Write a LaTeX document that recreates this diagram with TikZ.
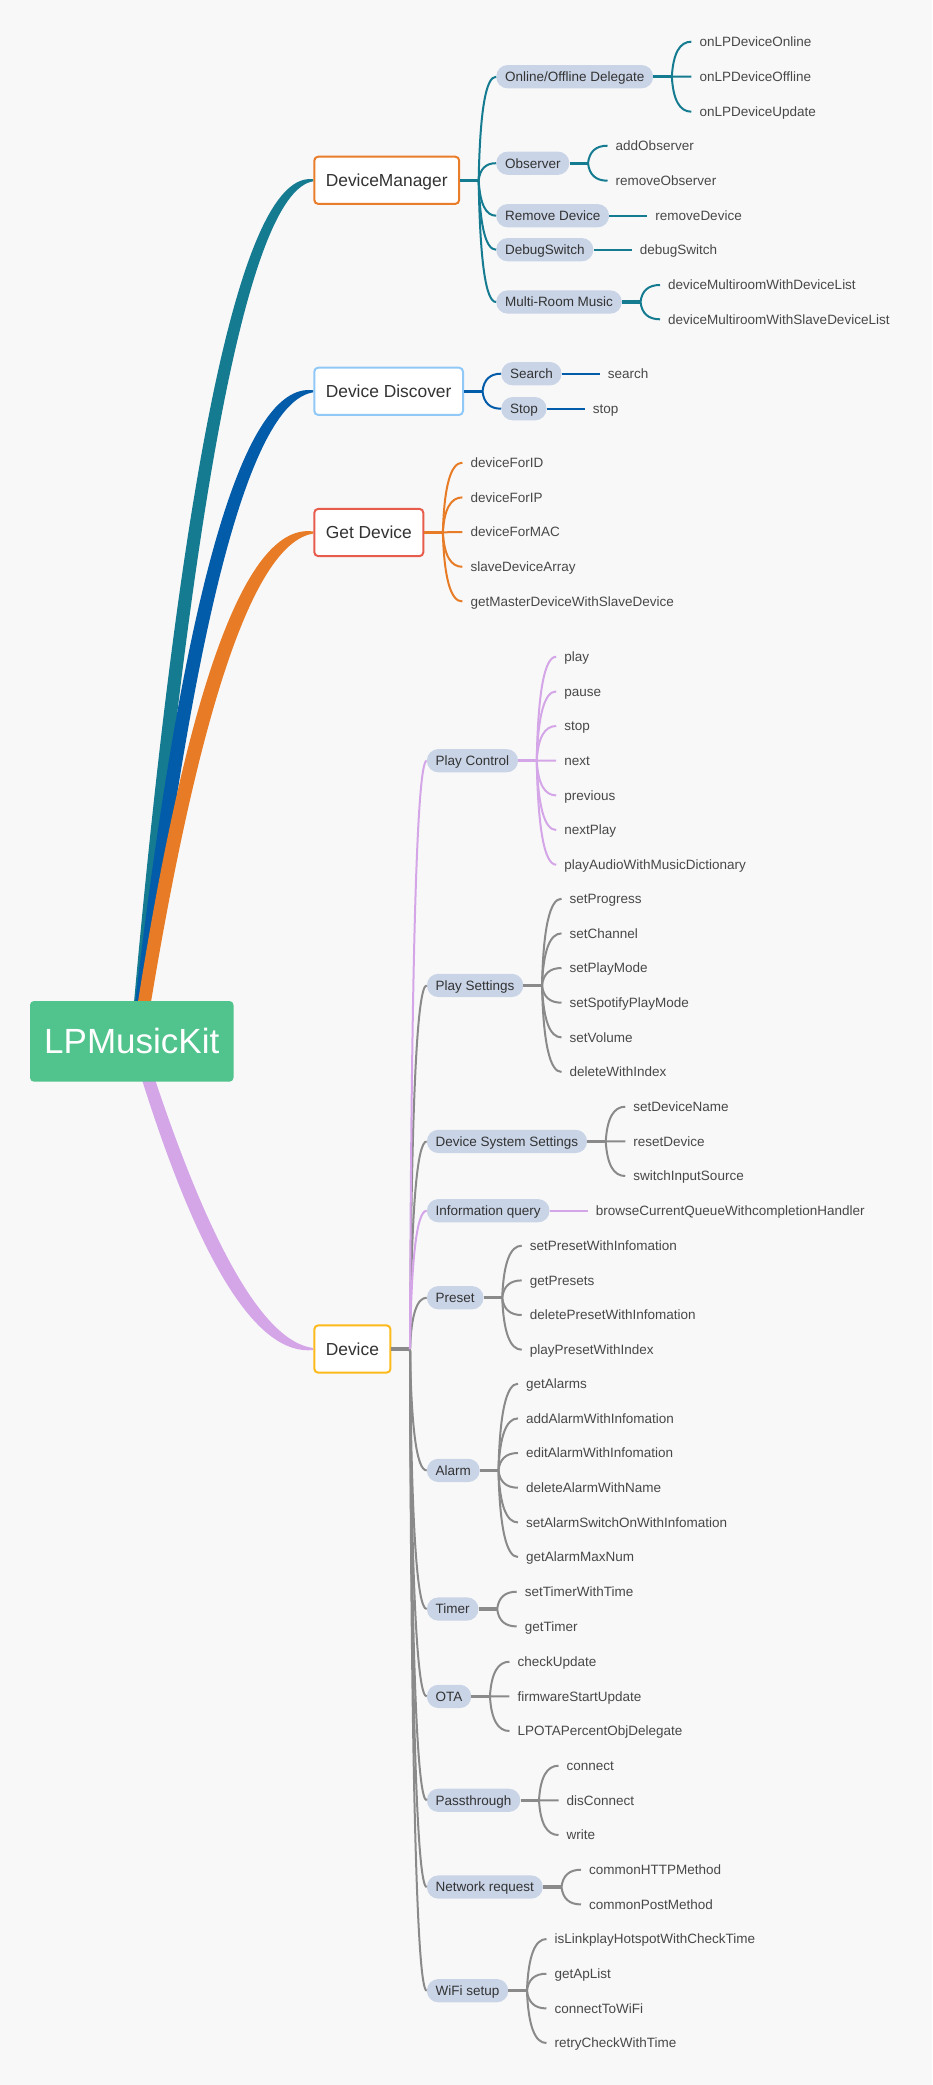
\documentclass[tikz,border=0pt]{standalone}
\usepackage{fontspec}
\setmainfont{Liberation Sans}
\usetikzlibrary{calc}
\definecolor{bg}{HTML}{F8F8F8}
\definecolor{teal1}{RGB}{20,123,145}
\definecolor{blue1}{RGB}{3,92,170}
\definecolor{orange1}{RGB}{232,124,38}
\definecolor{lilac}{RGB}{212,166,232}
\definecolor{gray1}{RGB}{138,138,138}
\definecolor{rootg}{RGB}{81,195,140}
\definecolor{pillc}{RGB}{201,212,231}
\definecolor{txt}{RGB}{51,51,51}
\definecolor{leaftxt}{RGB}{72,72,72}
\definecolor{bdm}{RGB}{234,125,42}
\definecolor{bdd}{RGB}{144,200,248}
\definecolor{bgd}{RGB}{232,92,76}
\definecolor{bdev}{RGB}{252,186,28}
\tikzset{
 rootbox/.style={fill=rootg, rounded corners=4pt, minimum width=203.5pt, minimum height=80.7pt, inner sep=0pt, text=white, font=\fontsize{35}{40}\selectfont, text height=31pt, text depth=6pt},
 topic/.style={draw, line width=2pt, fill=white, rounded corners=4pt, minimum height=47.3pt, inner xsep=11.5pt, inner ysep=0pt, text=txt, font=\fontsize{17.4}{20}\selectfont, text height=16.5pt, text depth=4pt, anchor=west},
 pill/.style={fill=pillc, rounded corners=11.5pt, minimum height=23.3pt, inner xsep=8.8pt, inner ysep=0pt, text=txt, font=\fontsize{13.5}{15}\selectfont, text height=12.6pt, text depth=3pt, anchor=west},
 leaf/.style={inner xsep=8pt, inner ysep=0pt, text=leaftxt, font=\fontsize{13.5}{15}\selectfont, text height=12.6pt, text depth=3pt, anchor=west},
 stub/.style={line width=3.3pt},
 br/.style={line width=2pt},
}
\newcommand\brcurve[3]{%
  \path (#2 |- #3) ++(2pt,0) coordinate (cq);
  \draw[#1] (#2) .. controls ($(#2)!0.6667!(cq)$) and ($(#3)!0.6667!(cq)$) .. (#3);}
\newcommand\grp[3]{%
  \coordinate (#1j) at ($(#1.east)+(18.5,0)$);
  \draw[stub,color=#2] (#1.east) -- (#1j);
  \foreach \nm/\yy/\tx in {#3} {
    \node[leaf] (\nm) at ($(#1.east |- 0,\yy)+(38,0)$) {\tx};
    \brcurve{br,color=#2}{#1j}{\nm.west}
  }}
\newcommand\one[5]{%
  \node[leaf] (#2) at ($(#1.east |- 0,#3)+(38,0)$) {#4};
  \draw[br,color=#5] (#1.east) -- (#2.west);}
\begin{document}
\begin{tikzpicture}[x=1pt,y=-1pt]
\useasboundingbox (0,0) rectangle (932,2085);
\fill[bg] (0,0) rectangle (932,2085);
% tapered main branches
\fill[teal1] (133.5,1008) .. controls (183.83,446.2) and (243.77,169.97) .. (313.3,179.3) -- (313.3,181.3) .. controls (251.77,190.63) and (196.17,466.2) .. (146.5,1008) -- cycle;
\fill[blue1] (134.5,1008) .. controls (184.17,586.87) and (243.77,380.97) .. (313.3,390.3) -- (313.3,392.3) .. controls (251.77,401.63) and (196.5,606.87) .. (147.5,1008) -- cycle;
\fill[orange1] (137,1008) .. controls (188.33,681) and (247.1,522.17) .. (313.3,531.5) -- (313.3,533.5) .. controls (255.1,542.83) and (200.67,701) .. (150,1008) -- cycle;
\fill[lilac] (140.2,1074) .. controls (199.4,1264) and (257.1,1356) .. (313.3,1350) -- (313.3,1348) .. controls (265.1,1342) and (211.73,1250.67) .. (153.2,1074) -- cycle;
% root and topics
\node[rootbox] (root) at (131.75,1041.35) {LPMusicKit};
\node[topic, draw=bdm] (dm) at (313.3,180.3) {DeviceManager};
\node[topic, draw=bdd] (dd) at (313.3,391.3) {Device Discover};
\node[topic, draw=bgd] (gd) at (313.3,532.5) {Get Device};
\node[topic, draw=bdev] (dev) at (313.3,1349) {Device};
% DeviceManager
\node[pill] (p1) at (496,76.7) {Online/Offline Delegate};
\node[pill] (p2) at (496,163.2) {Observer};
\node[pill] (p3) at (496,215.7) {Remove Device};
\node[pill] (p4) at (496,249.7) {DebugSwitch};
\node[pill] (p5) at (496,302) {Multi-Room Music};
\coordinate (dmj) at ($(dm.east)+(18.5,0)$);
\draw[stub,teal1] (dm.east) -- (dmj);
\foreach \pn in {p1,p2,p3,p4,p5} {\brcurve{br,color=teal1}{dmj}{\pn.west}}
\grp{p1}{teal1}{l11/41.7/onLPDeviceOnline, l12/76.7/onLPDeviceOffline, l13/111.7/onLPDeviceUpdate}
\grp{p2}{teal1}{l21/145.7/addObserver, l22/180.7/removeObserver}
\one{p3}{l31}{215.7}{removeDevice}{teal1}
\one{p4}{l41}{249.7}{debugSwitch}{teal1}
\grp{p5}{teal1}{l51/285/deviceMultiroomWithDeviceList, l52/319.3/deviceMultiroomWithSlaveDeviceList}
% Device Discover
\node[pill] (q1) at (501,373.7) {Search};
\node[pill] (q2) at (501,408.7) {Stop};
\coordinate (ddj) at ($(dd.east)+(18.5,0)$);
\draw[stub,blue1] (dd.east) -- (ddj);
\foreach \pn in {q1,q2} {\brcurve{br,color=blue1}{ddj}{\pn.west}}
\one{q1}{m1}{373.7}{search}{blue1}
\one{q2}{m2}{408.7}{stop}{blue1}
% Get Device
\grp{gd}{orange1}{g1/462.7/deviceForID, g2/497.4/deviceForIP, g3/532.1/deviceForMAC, g4/566.8/slaveDeviceArray, g5/601.5/getMasterDeviceWithSlaveDevice}
% Device
\node[pill] (pc) at (426.7,760.7) {Play Control};
\node[pill] (ps) at (426.7,985.4) {Play Settings};
\node[pill] (dss) at (426.7,1141.4) {Device System Settings};
\node[pill] (iq) at (426.7,1210.7) {Information query};
\node[pill] (pre) at (426.7,1297.7) {Preset};
\node[pill] (al) at (426.7,1470.4) {Alarm};
\node[pill] (ti) at (426.7,1609) {Timer};
\node[pill] (ota) at (426.7,1696.4) {OTA};
\node[pill] (pt) at (426.7,1800.3) {Passthrough};
\node[pill] (nr) at (426.7,1887) {Network request};
\node[pill] (wf) at (426.7,1990.7) {WiFi setup};
\coordinate (devj) at ($(dev.east)+(18.5,0)$);
\draw[stub,gray1] (dev.east) -- (devj);
\foreach \pn in {ps,dss,pre,al,ti,ota,pt,nr,wf} {\brcurve{br,color=gray1}{devj}{\pn.west}}
\foreach \pn in {pc,iq} {\brcurve{br,color=lilac}{devj}{\pn.west}}
\grp{pc}{lilac}{a1/656.7/play, a2/691.4/pause, a3/726.0/stop, a4/760.7/next, a5/795.4/previous, a6/830.0/nextPlay, a7/864.7/playAudioWithMusicDictionary}
\grp{ps}{gray1}{b1/898.7/setProgress, b2/933.4/setChannel, b3/968.0/setPlayMode, b4/1002.7/setSpotifyPlayMode, b5/1037.4/setVolume, b6/1072.0/deleteWithIndex}
\grp{dss}{gray1}{c1/1106.7/setDeviceName, c2/1141.4/resetDevice, c3/1176.0/switchInputSource}
\one{iq}{d1}{1210.7}{browseCurrentQueueWithcompletionHandler}{lilac}
\grp{pre}{gray1}{e1/1245.7/setPresetWithInfomation, e2/1280.4/getPresets, e3/1315.0/deletePresetWithInfomation, e4/1349.7/playPresetWithIndex}
\grp{al}{gray1}{f1/1383.7/getAlarms, f2/1418.4/addAlarmWithInfomation, f3/1453.0/editAlarmWithInfomation, f4/1487.7/deleteAlarmWithName, f5/1522.4/setAlarmSwitchOnWithInfomation, f6/1557.0/getAlarmMaxNum}
\grp{ti}{gray1}{h1/1591.7/setTimerWithTime, h2/1626.4/getTimer}
\grp{ota}{gray1}{k1/1661.7/checkUpdate, k2/1696.4/firmwareStartUpdate, k3/1731.0/LPOTAPercentObjDelegate}
\grp{pt}{gray1}{n1/1765.7/connect, n2/1800.3/disConnect, n3/1835.0/write}
\grp{nr}{gray1}{r1/1869.7/commonHTTPMethod, r2/1904.4/commonPostMethod}
\grp{wf}{gray1}{w1/1939.0/isLinkplayHotspotWithCheckTime, w2/1973.7/getApList, w3/2008.4/connectToWiFi, w4/2043.0/retryCheckWithTime}
\end{tikzpicture}
\end{document}
